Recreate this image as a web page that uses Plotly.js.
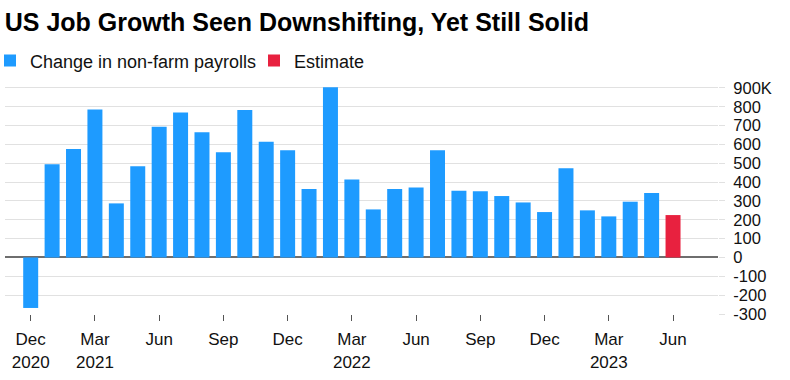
<!DOCTYPE html>
<html>
<head>
<meta charset="utf-8">
<script src="https://cdn.plot.ly/plotly-3.0.1.min.js"></script>
<style>html,body{margin:0;padding:0;background:#fff;}#chart{width:790px;height:380px;}</style>
</head>
<body>
<div id="chart"></div>
<script>
// Months (categories)
const months = [
  "Dec 2020","Jan 2021","Feb 2021","Mar 2021","Apr 2021","May 2021","Jun 2021",
  "Jul 2021","Aug 2021","Sep 2021","Oct 2021","Nov 2021","Dec 2021",
  "Jan 2022","Feb 2022","Mar 2022","Apr 2022","May 2022","Jun 2022",
  "Jul 2022","Aug 2022","Sep 2022","Oct 2022","Nov 2022","Dec 2022",
  "Jan 2023","Feb 2023","Mar 2023","Apr 2023","May 2023"
];
// Change in non-farm payrolls (thousands)
const payrolls = [
  -268, 495, 576, 785, 287, 484, 694,
  769, 664, 558, 782, 614, 569,
  364, 903, 414, 255, 364, 371,
  569, 354, 352, 326, 292, 241,
  474, 250, 218, 296, 342
];
// Estimate
const estMonths = ["Jun 2023"];
const estValues = [225];

// Axis ticks
const xTickVals = ["Dec 2020","Mar 2021","Jun 2021","Sep 2021","Dec 2021","Mar 2022","Jun 2022","Sep 2022","Dec 2022","Mar 2023","Jun 2023"];
const xTickText = ["Dec<br>2020","Mar<br>2021","Jun","Sep","Dec","Mar<br>2022","Jun","Sep","Dec","Mar<br>2023","Jun"];
const yTickVals = [-300,-200,-100,0,100,200,300,400,500,600,700,800,900];
const yTickText = ["-300","-200","-100","0","100","200","300","400","500","600","700","800","900K"];

const FONT = "Liberation Sans, Arial, Helvetica, sans-serif";

const traces = [
  {type:"bar", name:"Change in non-farm payrolls", x:months, y:payrolls,
   marker:{color:"#1e9bff", line:{width:0}}, hoverinfo:"x+y"},
  {type:"bar", name:"Estimate", x:estMonths, y:estValues,
   marker:{color:"#e8213f", line:{width:0}}, hoverinfo:"x+y"}
];

const layout = {
  width:790, height:380,
  paper_bgcolor:"#ffffff", plot_bgcolor:"#ffffff",
  font:{family:FONT, color:"#111111", size:16},
  margin:{l:5, r:72, t:86, b:66},
  barmode:"overlay",
  bargap:0.3,
  showlegend:true,
  title:{
    text:"<b>US Job Growth Seen Downshifting, Yet Still Solid</b>",
    font:{family:FONT, size:25, color:"#000000"},
    xref:"container", x:0.006, xanchor:"left",
    yref:"container", y:0.941, yanchor:"middle"
  },
  legend:{
    orientation:"h", xref:"container", yref:"container",
    x:0, xanchor:"left", y:0.84, yanchor:"middle",
    indentation:-10,
    entrywidthmode:"pixels", entrywidth:229,
    font:{family:FONT, size:18, color:"#111111"},
    bgcolor:"rgba(0,0,0,0)", traceorder:"normal",
    itemclick:false
  },
  xaxis:{
    type:"category",
    categoryorder:"array", categoryarray:months.concat(estMonths),
    range:[-1.2, 32.1],
    tickmode:"array", tickvals:xTickVals, ticktext:xTickText,
    ticks:"outside", ticklen:6, tickcolor:"#555555", tickwidth:1,
    ticklabelstandoff:4,
    showgrid:false, showline:false, zeroline:false,
    tickfont:{family:FONT, size:17, color:"#111111"},
    fixedrange:true
  },
  yaxis:{
    side:"right",
    range:[-300, 910],
    tickmode:"array", tickvals:yTickVals, ticktext:yTickText,
    ticks:"outside", ticklen:6, tickcolor:"#e1e1e1", tickwidth:1,
    ticklabelstandoff:5,
    showgrid:true, gridcolor:"#e1e1e1", gridwidth:1,
    zeroline:true, zerolinecolor:"#6e6e6e", zerolinewidth:1.5,
    showline:false,
    tickfont:{family:FONT, size:16.5, color:"#111111"},
    fixedrange:true
  }
};

Plotly.newPlot("chart", traces, layout, {displayModeBar:false});
</script>
</body>
</html>
